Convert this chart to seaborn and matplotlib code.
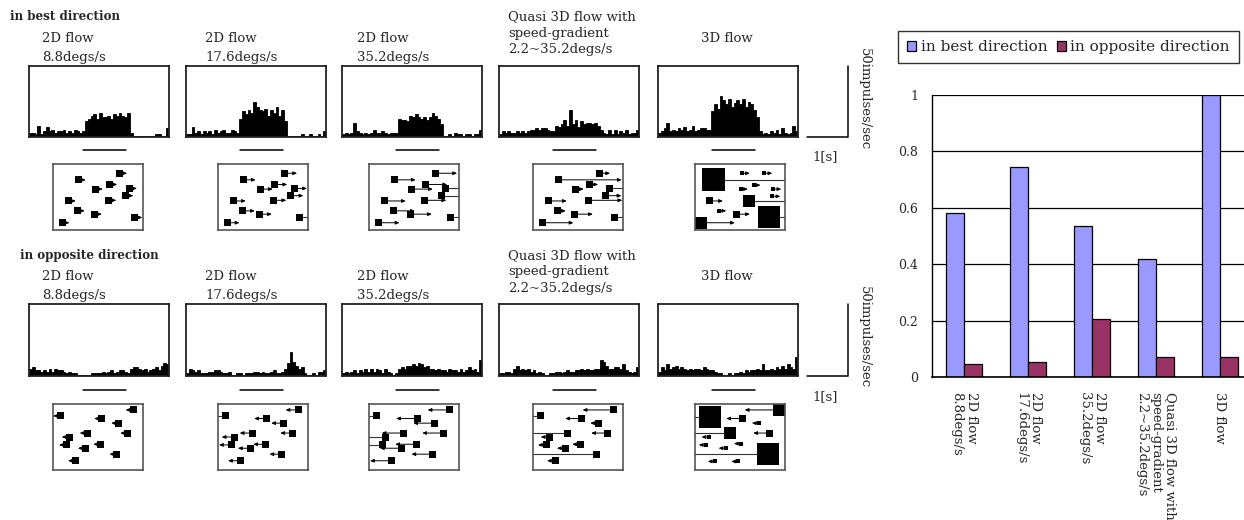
import numpy as np
import pandas as pd
import matplotlib
matplotlib.use('Agg')
import matplotlib.pyplot as plt
from matplotlib.patches import Rectangle
import seaborn as sns

# ---------------- data ----------------
conditions = ['2D flow\n8.8degs/s', '2D flow\n17.6degs/s', '2D flow\n35.2degs/s',
              'Quasi 3D flow with\nspeed-gradient\n2.2~35.2degs/s', '3D flow']
best_dir = [0.58, 0.745, 0.535, 0.42, 1.0]
opp_dir = [0.047, 0.053, 0.207, 0.072, 0.072]
series = ['in best direction', 'in opposite direction']
row_labels = ['in best direction', 'in opposite direction']

# PSTH (impulses/sec), 50 bins over the trial
t_total = 3.4
stim_on, stim_off = 1.3, 2.35
psth_best_1 = [3, 3, 2, 8, 2, 4, 7, 4, 5, 3, 4, 4, 5, 3, 4, 3, 5, 4, 3, 4,
               11, 13, 15, 16, 13, 17, 14, 14, 15, 13, 16, 15, 17, 15, 14, 17,
               3, 1, 1, 1, 1, 1, 1, 1, 1, 2, 2, 1, 1, 6]
psth_best_2 = [2, 2, 7, 3, 4, 2, 4, 3, 4, 2, 5, 3, 4, 5, 3, 3, 5, 4, 3,
               13, 18, 16, 19, 17, 25, 21, 19, 18, 20, 15, 19, 17, 21, 15, 19, 11,
               1, 1, 1, 1, 1, 2, 1, 1, 2, 1, 1, 2, 1, 4]
psth_best_3 = [2, 3, 2, 3, 10, 4, 3, 2, 3, 2, 3, 5, 3, 3, 4, 3, 2, 3, 3, 3,
               13, 12, 12, 11, 15, 14, 16, 14, 13, 14, 12, 14, 17, 15, 13, 9,
               1, 1, 2, 1, 3, 2, 2, 1, 2, 2, 1, 2, 2, 5]
psth_best_4 = [2, 4, 3, 4, 3, 3, 4, 3, 4, 3, 4, 5, 5, 6, 5, 6, 6, 5, 4, 4,
               8, 7, 9, 12, 8, 19, 9, 12, 7, 11, 9, 10, 10, 9, 10, 8,
               5, 3, 2, 5, 2, 5, 2, 4, 3, 5, 2, 3, 3, 5]
psth_best_5 = [3, 4, 6, 10, 4, 5, 4, 6, 5, 7, 4, 5, 8, 4, 5, 6, 6, 5, 5,
               18, 23, 20, 29, 26, 23, 27, 21, 24, 26, 23, 27, 21, 25, 23, 19, 14,
               4, 2, 3, 2, 4, 3, 5, 2, 6, 3, 2, 3, 8, 4]
psth_opp_1 = [5, 6, 4, 4, 3, 4, 3, 5, 3, 5, 4, 4, 3, 2, 3, 2, 2, 1, 1, 1,
              1, 1, 2, 2, 2, 2, 3, 2, 3, 4, 2, 3, 4, 4, 3, 2, 5, 6, 6, 5,
              4, 5, 3, 4, 5, 6, 4, 7, 9, 8]
psth_opp_2 = [2, 5, 4, 3, 4, 2, 2, 2, 3, 3, 4, 4, 3, 2, 2, 3, 1, 1, 2, 2,
              1, 2, 2, 2, 3, 3, 2, 3, 2, 2, 3, 4, 2, 2, 3, 5, 9, 17, 10, 7,
              5, 6, 2, 1, 1, 2, 1, 3, 3, 4]
psth_opp_3 = [2, 3, 2, 3, 4, 2, 4, 3, 5, 3, 5, 3, 5, 4, 2, 5, 3, 2, 1, 2,
              5, 6, 5, 7, 7, 8, 7, 9, 8, 6, 7, 5, 5, 4, 5, 4, 4, 3, 5, 4,
              4, 3, 5, 3, 4, 6, 4, 5, 3, 11]
psth_opp_4 = [2, 2, 3, 3, 2, 5, 7, 4, 5, 4, 5, 3, 4, 2, 3, 2, 1, 1, 2, 2,
              3, 3, 2, 3, 4, 3, 3, 4, 4, 5, 4, 5, 4, 4, 5, 5, 11, 10, 7, 5,
              5, 6, 6, 5, 8, 4, 3, 2, 3, 6]
psth_opp_5 = [3, 6, 4, 8, 5, 6, 7, 5, 6, 5, 4, 5, 4, 5, 5, 4, 6, 5, 4, 4,
              3, 2, 2, 1, 1, 2, 1, 2, 2, 3, 2, 4, 3, 4, 4, 5, 4, 8, 4, 4,
              5, 4, 6, 5, 7, 5, 8, 6, 5, 13]
psth_rows = [[psth_best_1, psth_best_2, psth_best_3, psth_best_4, psth_best_5],
             [psth_opp_1, psth_opp_2, psth_opp_3, psth_opp_4, psth_opp_5]]

# stimulus sketches: dot centres as fractions of the box, dot size / arrow length in box units
dots_best_x = [0.74, 0.28, 0.63, 0.47, 0.85, 0.81, 0.17, 0.62, 0.27, 0.46, 0.91, 0.10]
dots_best_y = [0.14, 0.24, 0.31, 0.38, 0.37, 0.48, 0.56, 0.55, 0.71, 0.76, 0.81, 0.89]
dots_opp_x = [0.89, 0.085, 0.54, 0.73, 0.38, 0.83, 0.18, 0.15, 0.53, 0.36, 0.71, 0.25]
dots_opp_y = [0.09, 0.18, 0.22, 0.29, 0.44, 0.44, 0.50, 0.62, 0.61, 0.67, 0.76, 0.86]
arrow_2d = [4, 9, 18]
arrow_quasi_best = [7, 60, 5, 5, 10, 12, 15, 30, 5, 15, 6, 28]
arrow_quasi_opp = [27, 8, 13, 5, 40, 13, 5, 5, 5, 5, 70, 5]
dots3d_best_x = [0.20, 0.52, 0.77, 0.65, 0.51, 0.87, 0.86, 0.16, 0.60, 0.27, 0.46, 0.82, 0.065]
dots3d_best_y = [0.24, 0.14, 0.14, 0.32, 0.38, 0.38, 0.49, 0.56, 0.56, 0.71, 0.76, 0.80, 0.89]
dots3d_best_size = [23, 4, 4, 4, 4, 4, 4, 7, 12, 4, 7, 22, 12]
dots3d_best_arrow = [80, 6, 6, 5, 5, 6, 6, 10, 40, 5, 10, 10, 28]
dots3d_opp_x = [0.17, 0.93, 0.53, 0.71, 0.39, 0.83, 0.15, 0.12, 0.51, 0.34, 0.81, 0.22, 0.48]
dots3d_opp_y = [0.19, 0.09, 0.22, 0.29, 0.44, 0.44, 0.50, 0.62, 0.60, 0.67, 0.76, 0.87, 0.87]
dots3d_opp_size = [22, 12, 7, 4, 12, 7, 4, 4, 4, 4, 22, 4, 4]
dots3d_opp_arrow = [20, 28, 13, 5, 40, 13, 5, 5, 5, 5, 70, 5, 5]

# ---------------- layout (pixels) ----------------
W, H = 1244, 520
sns.set_style('white')
plt.rcParams['font.family'] = ['DejaVu Serif']
fig = plt.figure(figsize=(W / 100, H / 100), dpi=100)


def px_axes(left, top, width, height):
    return fig.add_axes([left / W, 1 - (top + height) / H, width / W, height / H])


def px_text(x, y, s, **kw):
    return fig.text(x / W, 1 - y / H, s, **kw)


hist_left = [29, 186, 342, 499, 658]
hist_top = [66, 304]
hist_h = [71, 72]
stim_left = [53, 218, 369, 533, 695]
stim_top = [164, 404]
title_x = [42, 205, 357, 508, 727]
title_y = [38, 17]
title_gap = [19, 19, 19, 16.5, 0]
row_shift = [0, 238.5]
edges = np.linspace(0, t_total, 51)
centers = (edges[:-1] + edges[1:]) / 2


def draw_stim(ax, xs, ys, sizes, arrows, direction):
    bw, bh = 90, 66
    for fx, fy, s, a in zip(xs, ys, sizes, arrows):
        cx, cy = fx * bw, fy * bh
        ax.add_patch(Rectangle((cx - s / 2, cy - s / 2), s, s, color='black', lw=0))
        start = cx + direction * s / 2
        end = start + direction * a
        if end >= bw or end <= 0:
            end = min(max(end, 0), bw)
            ax.plot([start, end], [cy, cy], color='#333333', lw=0.8)
        else:
            ax.annotate('', xy=(end, cy), xytext=(start, cy),
                        arrowprops=dict(arrowstyle='-|>,head_length=0.5,head_width=0.22',
                                        color='black', lw=0.7, shrinkA=0, shrinkB=0,
                                        mutation_scale=4.5))
    ax.set_xlim(0, bw)
    ax.set_ylim(bh, 0)
    ax.set_xticks([])
    ax.set_yticks([])
    for sp in ax.spines.values():
        sp.set_color('#555555')
        sp.set_linewidth(1.2)


for r in range(2):
    px_text([10, 20][r], [17, 255][r], row_labels[r], fontsize=8.6, fontweight='bold',
            ha='left', va='center')
    for i in range(5):
        # titles
        lines = conditions[i].split('\n')
        for k, line in enumerate(lines):
            px_text(title_x[i], title_y[1 if i == 3 else 0] + row_shift[r] + k * title_gap[i],
                    line, fontsize=9.5, ha='center' if i == 4 else 'left', va='center')
        # PSTH
        ax = px_axes(hist_left[i], hist_top[r], 140, hist_h[r])
        psth = pd.DataFrame({'t': centers, 'rate': psth_rows[r][i]})
        sns.histplot(data=psth, x='t', weights='rate', bins=50, binrange=(0, t_total),
                     element='bars', fill=True, color='black', alpha=1,
                     edgecolor='black', linewidth=0.6, ax=ax)
        ax.set_xlim(0, t_total)
        ax.set_ylim(0, 50)
        ax.set_xticks([])
        ax.set_yticks([])
        ax.set_xlabel('')
        ax.set_ylabel('')
        for sp in ax.spines.values():
            sp.set_color('#222222')
            sp.set_linewidth(1.3)
        ax.plot([stim_on, stim_off], [-9.5, -9.5], color='black', lw=1.1, clip_on=False)
        if i == 4:
            x0 = t_total + 0.22
            ax.plot([x0, x0 + 1, x0 + 1], [0, 0, 50], color='black', lw=1.1, clip_on=False)
            ax.text(x0 + 0.43, -14, '1[s]', fontsize=9.5, ha='center', va='center')
            ax.text(x0 + 1.24, 62.5, '50impulses/sec', fontsize=9.5, rotation=-90,
                    ha='left', va='top')
        # stimulus sketch
        sax = px_axes(stim_left[i], stim_top[r], 90, 66)
        if r == 0:
            if i < 3:
                draw_stim(sax, dots_best_x, dots_best_y, [7] * 12, [arrow_2d[i]] * 12, 1)
            elif i == 3:
                draw_stim(sax, dots_best_x, dots_best_y, [7] * 12, arrow_quasi_best, 1)
            else:
                draw_stim(sax, dots3d_best_x, dots3d_best_y, dots3d_best_size, dots3d_best_arrow, 1)
        else:
            if i < 3:
                draw_stim(sax, dots_opp_x, dots_opp_y, [7] * 12, [arrow_2d[i]] * 12, -1)
            elif i == 3:
                draw_stim(sax, dots_opp_x, dots_opp_y, [7] * 12, arrow_quasi_opp, -1)
            else:
                draw_stim(sax, dots3d_opp_x, dots3d_opp_y, dots3d_opp_size, dots3d_opp_arrow, -1)

# ---------------- bar chart ----------------
df = pd.DataFrame({'condition': conditions * 2,
                   'response': best_dir + opp_dir,
                   'direction': [series[0]] * 5 + [series[1]] * 5})
axb = px_axes(932, 95, 320, 282)
sns.barplot(data=df, x='condition', y='response', hue='direction',
            palette=['#9999FF', '#993366'], saturation=1, width=0.56,
            edgecolor='black', linewidth=0.9, ax=axb)
handles, labels = axb.get_legend_handles_labels()
axb.get_legend().remove()
axb.set_xlim(-0.5, 4.5)
axb.set_ylim(0, 1)
axb.set_xlabel('')
axb.set_ylabel('')
axb.set_axisbelow(True)
axb.yaxis.grid(True, color='black', lw=0.9)
axb.set_yticks([0, 0.2, 0.4, 0.6, 0.8, 1.0])
axb.set_yticklabels(['0', '0.2', '0.4', '0.6', '0.8', '1'], fontsize=9)
axb.tick_params(axis='y', length=0, pad=10)
axb.set_xticks(range(5))
axb.set_xticklabels(conditions, rotation=-90, ha='center', va='top', fontsize=9.5,
                    linespacing=1.15)
for t in axb.get_xticklabels():
    t.set_multialignment('left')
axb.tick_params(axis='x', length=0, pad=11)
axb.set_xticks([0.5, 1.5, 2.5, 3.5], minor=True)
axb.tick_params(axis='x', which='minor', direction='in', length=5, width=0.9, color='#555555')
for side in ['top', 'right']:
    axb.spines[side].set_visible(False)
axb.spines['left'].set_color('black')
axb.spines['left'].set_linewidth(1.0)
axb.spines['bottom'].set_color('black')
axb.spines['bottom'].set_linewidth(1.2)

leg = fig.legend(handles, labels, loc='upper left', bbox_to_anchor=(898 / W, 1 - 31 / H),
                 ncol=2, frameon=True, fancybox=False, edgecolor='black',
                 handlelength=0.6, handleheight=0.6, handletextpad=0.3,
                 columnspacing=0.6, borderpad=0.6, borderaxespad=0,
                 prop={'family': 'DejaVu Serif', 'size': 11})
leg.get_frame().set_linewidth(1.0)

fig.savefig('out.png', dpi=100)
